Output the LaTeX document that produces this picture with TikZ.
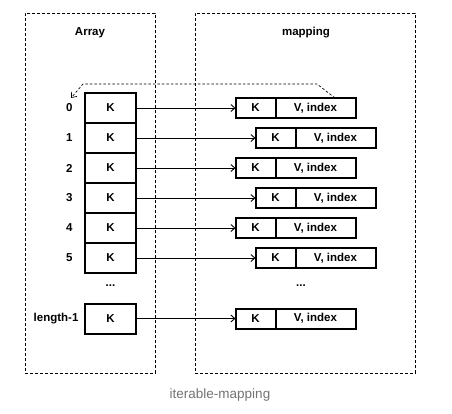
\documentclass[tikz,border=0pt]{standalone}
\usepackage{fontspec}
\setmainfont{Liberation Sans}
\usetikzlibrary{arrows.meta}
\begin{document}
\begin{tikzpicture}[x=1pt,y=-1pt,
  lbl/.style={font=\fontsize{11.5}{13}\selectfont\bfseries},
  frame/.style={draw=black,line width=0.8pt,dash pattern=on 3pt off 2pt},
  cell/.style={draw=black,line width=2pt,minimum width=51pt,minimum height=30pt,inner sep=0pt,outer sep=0pt,lbl},
  mk/.style={draw=black,line width=2pt,minimum width=40pt,minimum height=20pt,inner sep=0pt,outer sep=0pt,lbl},
  mv/.style={draw=black,line width=2pt,minimum width=80pt,minimum height=20pt,inner sep=0pt,outer sep=0pt,lbl},
  link/.style={draw=black,line width=0.9pt,-{Straight Barb[length=4pt,width=7pt]}},
  idx/.style={lbl,anchor=east}]
\useasboundingbox (0,0) rectangle (452,413);
\node[frame,minimum width=130pt,minimum height=360pt,anchor=north west] (arr) at (25,13) {};
\node[frame,minimum width=220pt,minimum height=360pt,anchor=north west] (map) at (195,13) {};
\node[lbl] (arrt) at (90,33) {Array};
\node[lbl] (mapt) at (306,33) {mapping};
% array cells
\foreach \i/\yc in {0/108,1/138,2/168,3/198,4/228,5/258}{
  \node[cell] (a\i) at (110.5,\yc) {K};
  \node[idx] (n\i) at (76,\yc) {\i};
}
\node[lbl] (adots) at (110.5,286) {...};
\node[cell] (aL) at (110.5,318.5) {K};
\node[idx] (nL) at (82,318.5) {length-1};
% mapping entries
\foreach \i/\yc/\xl in {0/108/235.5,1/138/255.5,2/168/235.5,3/198/255.5,4/228/235.5,5/258/255.5}{
  \node[mk,anchor=west] (k\i) at (\xl,\yc) {K};
  \node[mv,anchor=west] (v\i) at (k\i.east) {V, index};
  \draw[link] (a\i.east) -- (k\i.west);
}
\node[lbl] (mdots) at (301,286) {...};
\node[mk,anchor=west] (kL) at (235.5,318.5) {K};
\node[mv,anchor=west] (vL) at (kL.east) {V, index};
\draw[link] (aL.east) -- (kL.west);
% dashed back-link
\coordinate (c0) at (335,98);
\coordinate (c1) at (317,84);
\coordinate (c2) at (83,84);
\coordinate (c3) at (71,98);
\draw[draw=black,line width=0.7pt,dash pattern=on 2.5pt off 2pt,-{Straight Barb[length=4.5pt,width=7pt]}]
  (c0) -- (c1) -- (c2) -- (c3);
\node[font=\fontsize{13.5}{16}\selectfont,text=black!55] (cap) at (220,395) {iterable-mapping};
\end{tikzpicture}
\end{document}
